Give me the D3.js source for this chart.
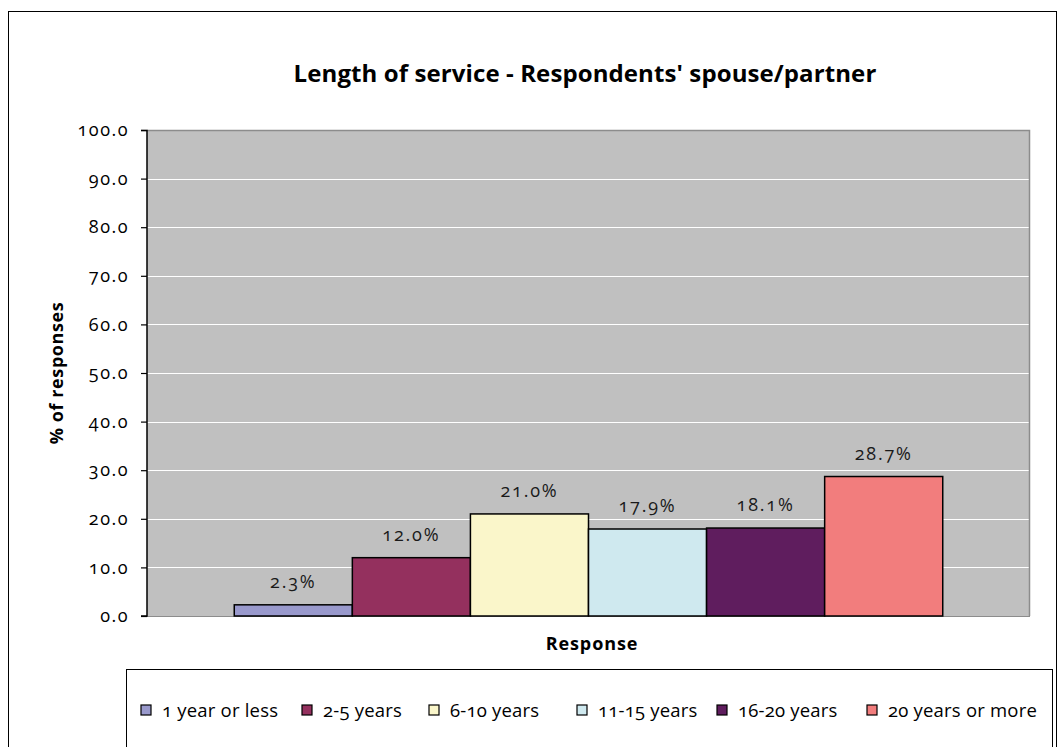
<!DOCTYPE html>
<html>
<head>
<meta charset="utf-8">
<script src="https://cdn.jsdelivr.net/npm/d3@7"></script>
<style>
  html, body { margin: 0; padding: 0; background: #fff; }
  svg { display: block; font-family: "Open Sans", "Lato", sans-serif; font-variant-numeric: oldstyle-nums; }
</style>
</head>
<body>
<svg id="chart" width="1058" height="747"></svg>
<script>
// Chart data
const title = "Length of service - Respondents' spouse/partner";
const categoryLabel = "Response";
const seriesNames = ["1 year or less", "2-5 years", "6-10 years", "11-15 years", "16-20 years", "20 years or more"];
const seriesValues = [2.3, 12.0, 21.0, 17.9, 18.1, 28.7];
const seriesColors = ["#9999cc", "#94305e", "#faf6ca", "#cfe9ef", "#5f1d5e", "#f27d7d"];
const yTicks = [0, 10, 20, 30, 40, 50, 60, 70, 80, 90, 100];

const svg = d3.select("#chart");

// Outer chart frame
svg.append("rect")
  .attr("x", 8.5).attr("y", 11.5)
  .attr("width", 1048).attr("height", 760)
  .attr("fill", "#fff").attr("stroke", "#000").attr("stroke-width", 1);

// Plot area
const plot = { left: 147, top: 130, right: 1030, bottom: 616 };
const W = plot.right - plot.left, H = plot.bottom - plot.top;
const g = svg.append("g").attr("transform", `translate(${plot.left},${plot.top})`);

const y = d3.scaleLinear().domain([0, 100]).range([H, 0]);
const x = d3.scaleBand().domain(seriesNames).range([0, W]).paddingInner(0).paddingOuter(0.739);

g.append("rect").attr("width", W).attr("height", H).attr("fill", "#c0c0c0");

// Horizontal gridlines
g.selectAll("line.grid")
  .data(yTicks.filter(t => t > 0 && t < 100))
  .join("line")
  .attr("class", "grid")
  .attr("x1", 0).attr("x2", W)
  .attr("y1", d => Math.round(y(d)) + 0.5).attr("y2", d => Math.round(y(d)) + 0.5)
  .attr("stroke", "#fff").attr("stroke-width", 1);

// Plot border (top and right)
g.append("path")
  .attr("d", `M0,0.5H${W - 0.5}V${H}`)
  .attr("fill", "none").attr("stroke", "#8c8c8c").attr("stroke-width", 1.5);
g.append("line")
  .attr("x1", 0).attr("x2", W).attr("y1", H + 0.5).attr("y2", H + 0.5)
  .attr("stroke", "#8c8c8c").attr("stroke-width", 1);

// Bars
g.selectAll("rect.bar")
  .data(seriesNames)
  .join("rect")
  .attr("class", "bar")
  .attr("x", d => x(d))
  .attr("y", (d, i) => y(seriesValues[i]))
  .attr("width", x.bandwidth())
  .attr("height", (d, i) => H - y(seriesValues[i]))
  .attr("fill", (d, i) => seriesColors[i])
  .attr("stroke", "#000").attr("stroke-width", 1.5);

// Value labels
g.selectAll("text.val")
  .data(seriesNames)
  .join("text")
  .attr("class", "val")
  .attr("x", d => x(d) + x.bandwidth() / 2)
  .attr("y", (d, i) => y(seriesValues[i]) - 17)
  .attr("text-anchor", "middle")
  .attr("font-size", 18)
  .attr("letter-spacing", 1.8)
  .attr("fill", "#1a1a1a")
  .text((d, i) => seriesValues[i].toFixed(1) + "%");

// Y axis
const yAxis = g.append("g")
  .call(d3.axisLeft(y).tickValues(yTicks).tickFormat(d3.format(".1f")).tickSize(6).tickPadding(12));
yAxis.select(".domain").attr("stroke", "#000").attr("stroke-width", 1.5).attr("d", `M-6,0.5H0V${H}H-6`);
yAxis.selectAll(".tick line").attr("stroke", "#000").attr("stroke-width", 1.2);
yAxis.selectAll(".tick text")
  .attr("font-size", 18).attr("letter-spacing", 1.5)
  .attr("font-family", "'Open Sans', Lato, sans-serif").attr("fill", "#000");

// Titles
svg.append("text")
  .attr("x", 585).attr("y", 82)
  .attr("text-anchor", "middle")
  .attr("font-size", 24).attr("font-weight", "bold").attr("letter-spacing", 0.1)
  .text(title);

svg.append("text")
  .attr("transform", "translate(63,373) rotate(-90)")
  .attr("text-anchor", "middle")
  .attr("font-size", 18).attr("font-weight", "bold").attr("letter-spacing", 0.6)
  .text("% of responses");

svg.append("text")
  .attr("x", 592).attr("y", 650)
  .attr("text-anchor", "middle")
  .attr("font-size", 18).attr("font-weight", "bold").attr("letter-spacing", 0.9)
  .text(categoryLabel);

// Legend
svg.append("rect")
  .attr("x", 126.5).attr("y", 669.5)
  .attr("width", 926).attr("height", 100)
  .attr("fill", "#fff").attr("stroke", "#000").attr("stroke-width", 1);

const legendX = [141, 302, 429, 577, 717, 867];
const legend = svg.selectAll("g.legend")
  .data(seriesNames)
  .join("g")
  .attr("class", "legend")
  .attr("transform", (d, i) => `translate(${legendX[i]},705)`);
legend.append("rect")
  .attr("width", 10).attr("height", 10)
  .attr("fill", (d, i) => seriesColors[i])
  .attr("stroke", "#000").attr("stroke-width", 1.2);
legend.append("text")
  .attr("x", 21).attr("y", 12)
  .attr("font-size", 18.5).attr("letter-spacing", 0.2)
  .text(d => d);
</script>
</body>
</html>
